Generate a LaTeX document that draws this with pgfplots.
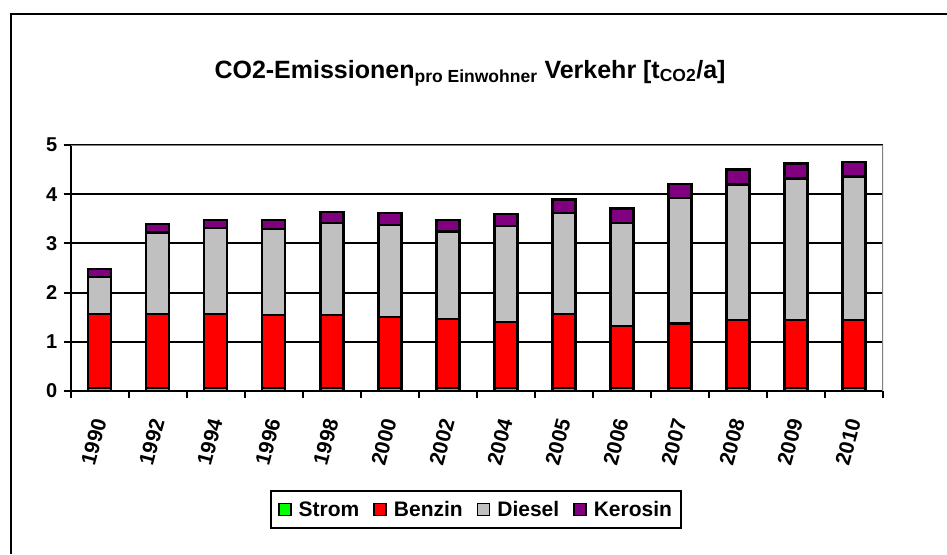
\documentclass[border=0pt]{standalone}
\usepackage{pgfplots}
\pgfplotsset{compat=1.18}
\usepackage{pgfplotstable}
\usepackage{fontspec}
\setmainfont{Liberation Sans}
\definecolor{cstrom}{RGB}{0,255,0}
\definecolor{cbenzin}{RGB}{255,0,0}
\definecolor{cdiesel}{RGB}{192,192,192}
\definecolor{ckerosin}{RGB}{128,0,128}
\definecolor{cframe}{RGB}{128,128,128}
\pgfplotstableread{
x Strom Benzin Diesel Kerosin
0  0.06 1.505 0.755 0.16
1  0.06 1.510 1.650 0.17
2  0.06 1.505 1.745 0.17
3  0.06 1.480 1.750 0.19
4  0.06 1.485 1.875 0.22
5  0.06 1.440 1.870 0.25
6  0.06 1.400 1.780 0.24
7  0.06 1.340 1.950 0.25
8  0.06 1.510 2.050 0.27
9  0.06 1.260 2.100 0.29
10 0.06 1.315 2.545 0.29
11 0.06 1.380 2.760 0.30
12 0.06 1.383 2.877 0.30
13 0.06 1.380 2.920 0.30
}\datatable
\begin{document}
\begin{tikzpicture}[x=1pt,y=1pt]
\useasboundingbox (0,0) rectangle (947,554);
\draw[line width=2.2pt] (11,0) -- (11,540) -- (947,540);
\node[font=\fontsize{25}{30}\selectfont\bfseries] at (470,481)
  {CO2-Emissionen\textsubscript{pro Einwohner} Verkehr [t\textsubscript{CO2}/a]};
\begin{axis}[
  at={(70.7pt,163pt)}, anchor=south west,
  scale only axis, width=812.3pt, height=246pt,
  ybar stacked, bar width=23pt,
  xmin=-0.5, xmax=13.5, ymin=0, ymax=5,
  axis x line*=bottom, axis y line*=left,
  axis line style={black, line width=2.2pt},
  xtick={0,...,13},
  xticklabels={1990,1992,1994,1996,1998,2000,2002,2004,2005,2006,2007,2008,2009,2010},
  major x tick style={draw=none},
  minor xtick={-0.5,0.5,...,13.5},
  minor x tick style={black, line width=2pt},
  minor tick length=7pt,
  ytick={0,1,2,3,4,5},
  major tick length=7pt,
  tick align=outside,
  ytick style={black, line width=2pt},
  ymajorgrids, grid style={black, line width=2pt},
  /pgf/number format/assume math mode=true,
  yticklabel style={font=\fontsize{20}{24}\selectfont\bfseries, xshift=-3pt},
  xticklabel style={font=\fontsize{21}{24}\selectfont\bfseries, yshift=-18pt, xshift=1pt, rotate=75, anchor=east},
  every axis plot/.append style={draw=black, line width=2.4pt},
  legend style={at={(0.499,-0.482)}, anchor=center, legend columns=4,
    draw=black, line width=2.2pt, font=\fontsize{21}{25}\selectfont\bfseries,
    /tikz/every even column/.append style={column sep=12pt},
    /tikz/every odd column/.append style={column sep=5pt},
    inner xsep=7pt, inner ysep=8pt},
  legend image code/.code={\draw[#1, line width=1.6pt, draw=black] (0pt,-6pt) rectangle (12pt,6pt);},
]
\addplot[fill=cstrom] table[x=x,y=Strom] {\datatable};
\addplot[fill=cbenzin] table[x=x,y=Benzin] {\datatable};
\addplot[fill=cdiesel] table[x=x,y=Diesel] {\datatable};
\addplot[fill=ckerosin] table[x=x,y=Kerosin] {\datatable};
\legend{Strom,Benzin,Diesel,Kerosin}
\draw[cframe, line width=2.2pt] (rel axis cs:0,1) -- (rel axis cs:1,1) -- (rel axis cs:1,0);
\end{axis}
\end{tikzpicture}
\end{document}
